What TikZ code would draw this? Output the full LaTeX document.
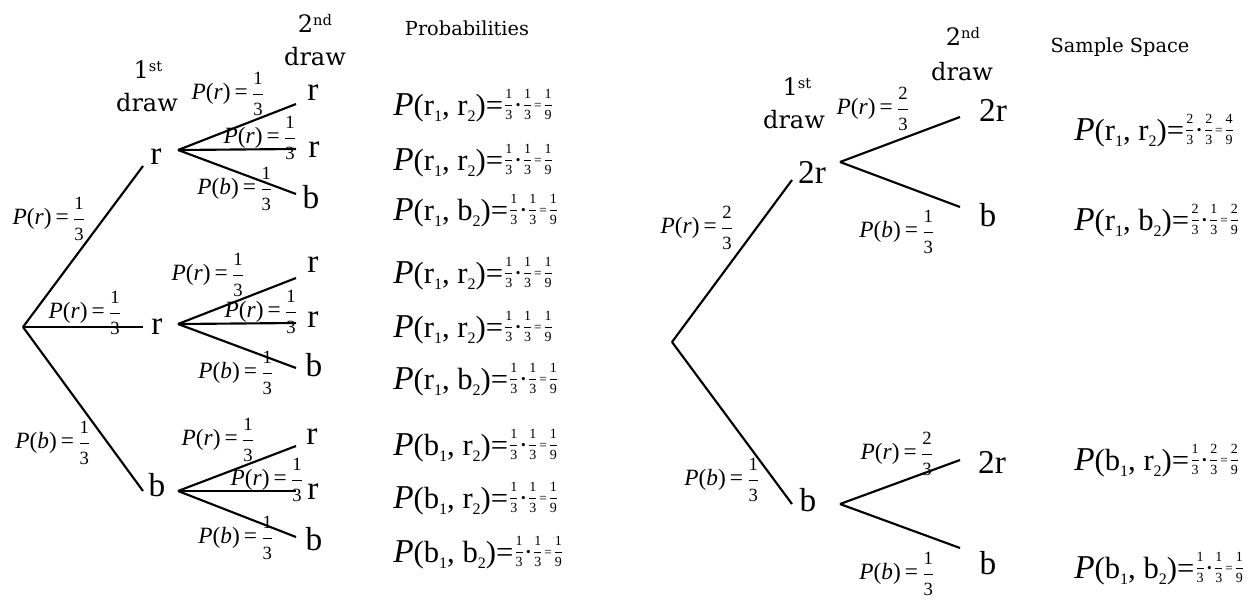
\documentclass[tikz,border=0pt]{standalone}
\usepackage{amsmath}
\usepackage{fontspec}
\setmainfont{Liberation Serif}
\newfontfamily\hdrfont{DejaVu Serif}
\newcommand\fsz[1]{\fontsize{#1}{#1}\selectfont}
\newcommand\lfr[2]{$\genfrac{}{}{0.5pt}{0}{\hbox{\fsz{14}#1}}{\hbox{\fsz{14}#2}}$}
\newcommand\plab[3]{\fsz{17.5}\textit{P}(\textit{#1})\hspace{3pt}=\hspace{3pt}\lfr{#2}{#3}}
\newcommand\sfr[2]{$\genfrac{}{}{0.4pt}{0}{\hbox{\fsz{10.5}#1}}{\hbox{\fsz{10.5}#2}}$}
\newcommand\prow[8]{{\fsz{25}\textit{P}}{\fsz{23}(#1\lower5pt\hbox{\fsz{12}1}, #2\lower5pt\hbox{\fsz{12}2})=}\raisebox{4.5pt}{\fsz{12}\hspace{0.5pt}\sfr{#3}{#4}\hspace{1.5pt}{\fsz{10}\textbullet}\hspace{1.5pt}\sfr{#5}{#6}\hspace{1pt}{\fsz{10}=}\hspace{1pt}\sfr{#7}{#8}}}
\newcommand\ordn[2]{#1\raisebox{5pt}{\fsz{11}#2}}
\tikzset{
  br/.style={line width=1.6pt},
  leaf/.style={font=\fsz{25}, inner sep=0pt},
  lab/.style={inner sep=0pt},
  hd/.style={font=\hdrfont\fsz{18}, inner sep=0pt, anchor=base},
  ttl/.style={font=\hdrfont\fsz{14.5}, inner sep=0pt, anchor=base},
  row/.style={inner sep=0pt, anchor=base west},
}
\begin{document}
\begin{tikzpicture}[x=0.75pt,y=-0.75pt]
\useasboundingbox (0,0) rectangle (1259,601);
% ---------------- left tree ----------------
\coordinate (A0) at (23,327);
\coordinate (A1e) at (143,166);
\coordinate (A2e) at (143,327);
\coordinate (A3e) at (143,491);
\node[leaf] (A1) at (156,157) {r};
\node[leaf] (A2) at (157,327) {r};
\node[leaf] (A3) at (157,485) {b};
\draw[br] (A0) -- (A1e);
\draw[br] (A0) -- (A2e);
\draw[br] (A0) -- (A3e);
\node[lab] (LA1) at (49,219) {\plab{r}{1}{3}};
\node[lab] (LA2) at (85,313) {\plab{r}{1}{3}};
\node[lab] (LA3) at (53,443) {\plab{b}{1}{3}};
% group 1
\coordinate (F1) at (178,150);
\coordinate (E11) at (296,104);
\coordinate (E12) at (296,149);
\coordinate (E13) at (296,194);
\draw[br] (F1) -- (E11);
\draw[br] (F1) -- (E12);
\draw[br] (F1) -- (E13);
\node[leaf] (N11) at (313,93) {r};
\node[leaf] (N12) at (314,150) {r};
\node[leaf] (N13) at (311,197) {b};
\node[lab] (L11) at (228,94) {\plab{r}{1}{3}};
\node[lab] (L12) at (260,138) {\plab{r}{1}{3}};
\node[lab] (L13) at (235,189) {\plab{b}{1}{3}};
% group 2
\coordinate (F2) at (178,324);
\coordinate (E21) at (296,278);
\coordinate (E22) at (296,323);
\coordinate (E23) at (296,368);
\draw[br] (F2) -- (E21);
\draw[br] (F2) -- (E22);
\draw[br] (F2) -- (E23);
\node[leaf] (N21) at (313,265) {r};
\node[leaf] (N22) at (313,320) {r};
\node[leaf] (N23) at (314,365) {b};
\node[lab] (L21) at (208,275) {\plab{r}{1}{3}};
\node[lab] (L22) at (261,312) {\plab{r}{1}{3}};
\node[lab] (L23) at (236,373) {\plab{b}{1}{3}};
% group 3
\coordinate (F3) at (178,491);
\coordinate (E31) at (296,446);
\coordinate (E32) at (296,491);
\coordinate (E33) at (296,537);
\draw[br] (F3) -- (E31);
\draw[br] (F3) -- (E32);
\draw[br] (F3) -- (E33);
\node[leaf] (N31) at (312,437) {r};
\node[leaf] (N32) at (313,492) {r};
\node[leaf] (N33) at (314,539) {b};
\node[lab] (L31) at (218,440) {\plab{r}{1}{3}};
\node[lab] (L32) at (267,480) {\plab{r}{1}{3}};
\node[lab] (L33) at (236,538) {\plab{b}{1}{3}};
% headers
\node[hd] (H1a) at (148,78) {\ordn{1}{st}};
\node[hd] (H1b) at (147,111) {draw};
\node[hd] (H2a) at (315,32) {\ordn{2}{nd}};
\node[hd] (H2b) at (315,65) {draw};
\node[ttl] (HP) at (467,35) {Probabilities};
% rows
\node[row] (P1) at (393,115) {\prow{r}{r}{1}{3}{1}{3}{1}{9}};
\node[row] (P2) at (393,170) {\prow{r}{r}{1}{3}{1}{3}{1}{9}};
\node[row] (P3) at (393,220) {\prow{r}{b}{1}{3}{1}{3}{1}{9}};
\node[row] (P4) at (393,283) {\prow{r}{r}{1}{3}{1}{3}{1}{9}};
\node[row] (P5) at (393,337) {\prow{r}{r}{1}{3}{1}{3}{1}{9}};
\node[row] (P6) at (393,389) {\prow{r}{b}{1}{3}{1}{3}{1}{9}};
\node[row] (P7) at (393,455) {\prow{b}{r}{1}{3}{1}{3}{1}{9}};
\node[row] (P8) at (393,508) {\prow{b}{r}{1}{3}{1}{3}{1}{9}};
\node[row] (P9) at (393,562) {\prow{b}{b}{1}{3}{1}{3}{1}{9}};
% ---------------- right tree ----------------
\coordinate (B0) at (672,342);
\coordinate (B1e) at (792,180);
\coordinate (B2e) at (792,504);
\node[leaf] (B1) at (812,172) {2r};
\node[leaf] (B2) at (808,500) {b};
\draw[br] (B0) -- (B1e);
\draw[br] (B0) -- (B2e);
\node[lab] (LB1) at (697,228) {\plab{r}{2}{3}};
\node[lab] (LB2) at (722,480) {\plab{b}{1}{3}};
\coordinate (G1) at (840,162);
\coordinate (G11) at (960,117);
\coordinate (G12) at (960,207);
\draw[br] (G1) -- (G11);
\draw[br] (G1) -- (G12);
\node[leaf] (M11) at (993,110) {2r};
\node[leaf] (M12) at (988,215) {b};
\node[lab] (K11) at (873,109) {\plab{r}{2}{3}};
\node[lab] (K12) at (897,232) {\plab{b}{1}{3}};
\coordinate (G2) at (840,504);
\coordinate (G21) at (960,460);
\coordinate (G22) at (960,548);
\draw[br] (G2) -- (G21);
\draw[br] (G2) -- (G22);
\node[leaf] (M21) at (992,462) {2r};
\node[leaf] (M22) at (988,563) {b};
\node[lab] (K21) at (897,454) {\plab{r}{2}{3}};
\node[lab] (K22) at (897,574) {\plab{b}{1}{3}};
% headers
\node[hd] (R1a) at (797,95) {\ordn{1}{st}};
\node[hd] (R1b) at (794,128) {draw};
\node[hd] (R2a) at (963,45) {\ordn{2}{nd}};
\node[hd] (R2b) at (962,80) {draw};
\node[ttl] (HS) at (1120,52) {Sample Space};
% rows
\node[row] (Q1) at (1074,140) {\prow{r}{r}{2}{3}{2}{3}{4}{9}};
\node[row] (Q2) at (1074,230) {\prow{r}{b}{2}{3}{1}{3}{2}{9}};
\node[row] (Q3) at (1074,470) {\prow{b}{r}{1}{3}{2}{3}{2}{9}};
\node[row] (Q4) at (1074,578) {\prow{b}{b}{1}{3}{1}{3}{1}{9}};
\end{tikzpicture}
\end{document}
